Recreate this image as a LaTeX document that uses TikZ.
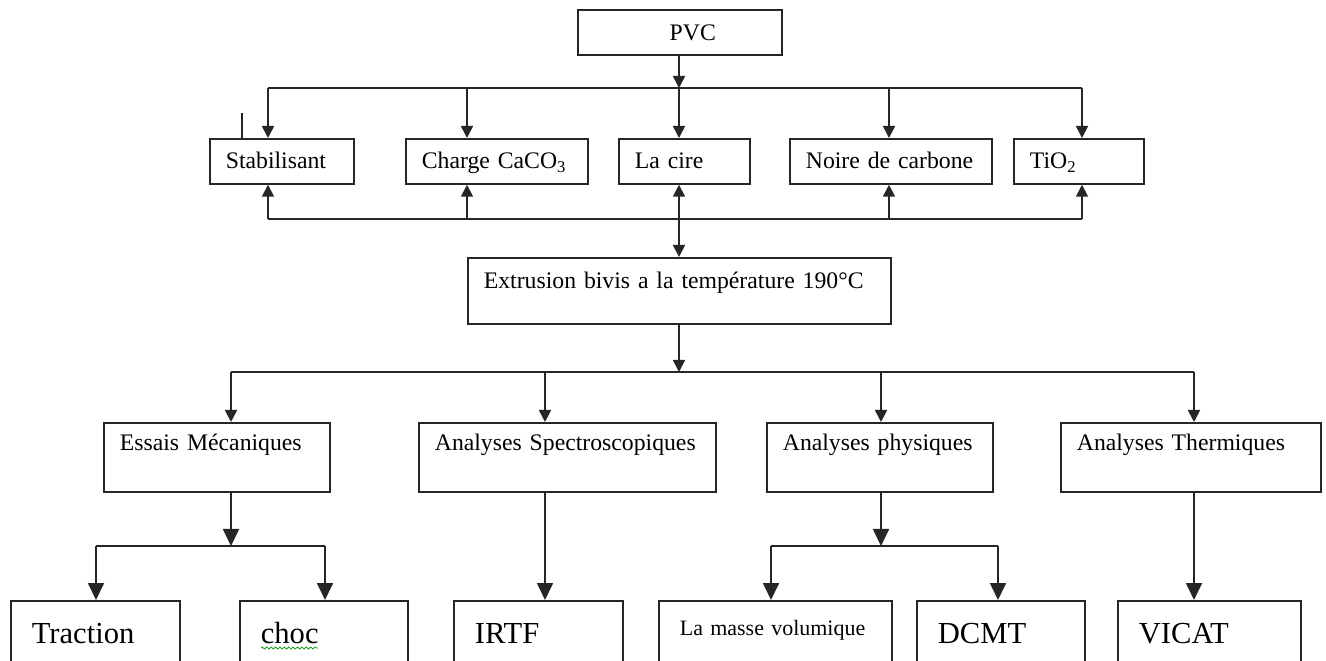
\documentclass[tikz,border=0pt]{standalone}
\usepackage{fontspec}
\setmainfont{Liberation Serif}
\usetikzlibrary{arrows.meta,decorations.pathmorphing}

\begin{document}
\begin{tikzpicture}[x=0.02cm, y=-0.02cm,
    box/.style={draw=black!85, line width=1pt, anchor=north west, inner xsep=0.32cm, inner ysep=0pt, align=left, font=\fontsize{13.5}{16}\selectfont},
    toprow/.style={box, text height=0.6cm, text depth=0.3cm},
    midrow/.style={box, text height=0.56cm, text depth=0.82cm},
    lowrow/.style={box, inner xsep=0.42cm, text height=0.86cm, text depth=0.6cm, font=\fontsize{17.4}{20}\selectfont},
    wire/.style={draw=black!85, line width=1pt},
    arrow/.style={wire, -{Triangle[length=0.24cm, width=0.24cm]}},
    bigarrow/.style={wire, -{Triangle[length=0.34cm, width=0.32cm]}}
]
\useasboundingbox (0,0) rectangle (1326,661);
\fill[white] (0,0) rectangle (1326,661);
\clip (0,0) rectangle (1326,661);

\node[box, text height=0.62cm, text depth=0.28cm, inner xsep=1.32cm, text width=1.44cm, align=right] (pvc) at (577,9) {PVC};

% additives
\node[toprow, text width=2.24cm] (stab) at (209,138) {\mbox{Stabilisant}};
\node[toprow, text width=3.0cm] (charge) at (405,138) {\mbox{Charge CaCO\textsubscript{3}}};
\node[toprow, text width=1.98cm] (cire) at (618,138) {\mbox{La cire}};
\node[toprow, text width=3.4cm] (noir) at (789,138) {\mbox{Noire de carbone}};
\node[toprow, text width=1.96cm] (tio) at (1013,138) {TiO\textsubscript{2}};

\node[box, text width=7.82cm, text height=0.62cm, text depth=0.7cm] (extr) at (467,257) {\mbox{Extrusion bivis a la température 190°C}};

% analyses
\node[midrow, text width=3.88cm] (meca) at (103,422) {\mbox{Essais Mécaniques}};
\node[midrow, text width=5.3cm] (spectro) at (418,422) {\mbox{Analyses Spectroscopiques}};
\node[midrow, text width=3.88cm] (phys) at (766,422) {\mbox{Analyses physiques}};
\node[midrow, text width=4.56cm] (therm) at (1060,422) {\mbox{Analyses Thermiques}};

% tests
\node[lowrow, text width=2.54cm] (traction) at (10,600) {Traction};
\node[lowrow, text width=2.52cm] (choc) at (239,600) {choc};
\node[lowrow, text width=2.54cm] (irtf) at (453,600) {IRTF};
\node[lowrow, text width=3.82cm, text height=0.7cm, text depth=0.76cm, font=\fontsize{12.5}{15}\selectfont] (masse) at (658,600) {\mbox{La masse volumique}};
\node[lowrow, text width=2.52cm] (dcmt) at (916,600) {DCMT};
\node[lowrow, text width=2.82cm] (vicat) at (1117,600) {VICAT};

% PVC -> additives -> extrusion
\coordinate (bus1) at (679,88);
\draw[arrow] (bus1 |- pvc.south) -- (bus1);
\foreach \n/\x in {stab/268, charge/467, cire/679, noir/889, tio/1082} {
  \coordinate (top-\n) at (\x,88);
  \coordinate (bot-\n) at (\x,219);
}
\draw[wire] (top-stab) -- (top-tio);
\draw[wire] (bot-stab) -- (bot-tio);
\foreach \n in {stab,charge,cire,noir,tio} {
  \draw[arrow] (top-\n) -- (top-\n |- \n.north);
  \draw[arrow] (bot-\n) -- (bot-\n |- \n.south);
}
\draw[arrow] (bot-cire) -- (bot-cire |- extr.north);
\draw[wire] ([xshift=0.66cm]stab.north west) -- ++(0,-25);

% extrusion -> analyses
\coordinate (bus2) at (679,372);
\draw[arrow] (bus2 |- extr.south) -- (bus2);
\foreach \n/\x in {meca/231, spectro/545, phys/881, therm/1194}
  \coordinate (mid-\n) at (\x,372);
\draw[wire] (mid-meca) -- (mid-therm);
\foreach \n in {meca,spectro,phys,therm}
  \draw[arrow] (mid-\n) -- (mid-\n |- \n.north);

% analyses -> tests
\coordinate (split1) at (231,546);
\coordinate (s1l) at (96,546);
\coordinate (s1r) at (325,546);
\draw[bigarrow] (split1 |- meca.south) -- (split1);
\draw[wire] (s1l) -- (s1r);
\draw[bigarrow] (s1l) -- (s1l |- traction.north);
\draw[bigarrow] (s1r) -- (s1r |- choc.north);
\draw[bigarrow] (mid-spectro |- spectro.south) -- (mid-spectro |- irtf.north);
\coordinate (split2) at (881,546);
\coordinate (s2l) at (771,546);
\coordinate (s2r) at (998,546);
\draw[bigarrow] (split2 |- phys.south) -- (split2);
\draw[wire] (s2l) -- (s2r);
\draw[bigarrow] (s2l) -- (s2l |- masse.north);
\draw[bigarrow] (s2r) -- (s2r |- dcmt.north);
\draw[bigarrow] (mid-therm |- therm.south) -- (mid-therm |- vicat.north);

\draw[green!60!black, line width=0.4pt, decorate, decoration={snake, amplitude=0.6pt, segment length=2.5pt}] ([shift={(22,48)}]choc.north west) -- ++(57,0);
\end{tikzpicture}
\end{document}
